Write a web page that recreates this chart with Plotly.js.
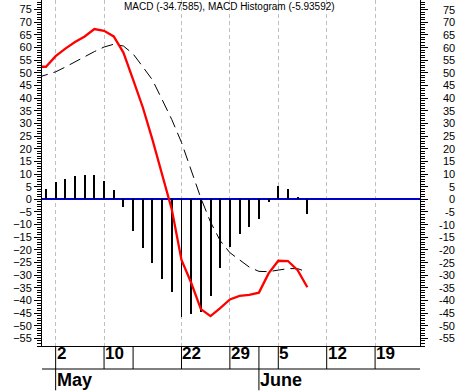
<!DOCTYPE html>
<html><head><meta charset="utf-8">
<script src="https://cdn.plot.ly/plotly-3.0.1.min.js"></script>
<style>html,body{margin:0;padding:0;background:#fff;overflow:hidden}#chart{width:460px;height:391px}</style>
</head><body><div id="chart"></div>
<script>
// trading-day index (0 = first bar shown)
const lineIdx = [-1,0,1,2,3,4,5,6,7,8,9,10,11,12,13,14,15,16,17,18,19,20,21,22,23,24,25,26,27];
const macd = [52.4,52.4,56.6,59.6,62.2,64.4,67.3,66.6,64.4,58.0,47.3,36.4,23.6,10.3,-4.0,-24.0,-33.0,-43.4,-46.2,-43.0,-39.6,-38.2,-37.8,-36.9,-29.3,-24.3,-24.4,-28.0,-34.76];
const signal = [48.0,49.1,50.4,52.3,54.4,56.5,58.4,60.2,61.3,60.6,57.5,52.4,47.2,39.4,31.5,22.5,11.5,0.5,-9.0,-16.4,-21.1,-24.0,-26.8,-28.5,-28.6,-28.0,-27.4,-27.4,-28.8];
const histIdx = [0,1,2,3,4,5,6,7,8,9,10,11,12,13,14,15,16,17,18,19,20,21,22,23,24,25,26,27];
const histogram = [4.0,7.0,8.2,9.3,9.6,9.7,7.2,3.5,-2.9,-12.4,-19.1,-25.0,-31.6,-36.6,-46.6,-45.2,-44.4,-38.1,-27.3,-18.9,-13.8,-10.8,-7.9,-0.9,5.3,3.9,0.9,-5.94];
const lastMacd = '-34.7585';
const lastHist = '-5.93592';
const yTicks = [-55,-50,-45,-40,-35,-30,-25,-20,-15,-10,-5,0,5,10,15,20,25,30,35,40,45,50,55,60,65,70,75];
const dateTickIdx = [1,6,14,19,24,29,34];
const dateTickLabels = ['2','10','22','29','5','12','19'];
const weekSepIdx = [1,6,9,14,19,22,24,29,34];
const monthIdx = [1,22];
const monthLabels = ['May','June'];

const YR = [-58, 78.8];
const rowY = -0.0665, botY = -0.128;

const traces = [
  {type:'bar', x:histIdx, y:histogram, width:0.2, marker:{color:'#000', line:{width:0}}, hoverinfo:'skip'},
  {type:'scatter', mode:'lines', x:lineIdx, y:signal, line:{color:'#000', width:1, dash:'12px,6px'}, hoverinfo:'skip'},
  {type:'scatter', mode:'lines', x:lineIdx, y:macd, yaxis:'y2', line:{color:'#ff0000', width:2.3}, hoverinfo:'skip'}
];

const tickFont = {family:'Arial, Liberation Sans, sans-serif', size:11, color:'#000'};
const dateFont = {family:'Arial, Liberation Sans, sans-serif', size:17, color:'#000', weight:'bold'};

const annotations = [];
annotations.push({xref:'paper', yref:'paper', x:0.497, y:0.98, xanchor:'center', yanchor:'middle', showarrow:false,
  text:'MACD (' + lastMacd + '), MACD Histogram (' + lastHist + ')', font:{family:'Arial, Liberation Sans, sans-serif', size:10, color:'#000'}});
yTicks.forEach(v => annotations.push({xref:'paper', yref:'y', x:1.0992, y:v, xanchor:'right', yanchor:'middle', showarrow:false, text:String(v), font:tickFont}));
dateTickIdx.forEach((d,i) => annotations.push({xref:'x', yref:'paper', x:d, y:-0.0231, xanchor:'left', yanchor:'middle', showarrow:false, text:dateTickLabels[i], font:dateFont, xshift:-1}));
monthIdx.forEach((d,i) => annotations.push({xref:'x', yref:'paper', x:d, y:-0.0997, xanchor:'left', yanchor:'middle', showarrow:false, text:monthLabels[i], font:Object.assign({}, dateFont, {size:18}), xshift:-1}));

const shapes = [];
shapes.push({type:'line', xref:'paper', yref:'paper', x0:0, x1:1, y0:rowY, y1:rowY, line:{color:'#000', width:1}});
weekSepIdx.forEach(d => {
  const full = monthIdx.indexOf(d) >= 0;
  shapes.push({type:'line', xref:'x', yref:'paper', x0:d, x1:d, y0:0, y1: full ? botY : rowY, line:{color:'#000', width:1}});
});

const axisY = {
  range:YR, tickmode:'array', tickvals:yTicks, ticks:'outside', ticklen:7, tickwidth:1, tickcolor:'#000',
  minor:{dtick:1, tick0:0, ticks:'outside', ticklen:4, tickcolor:'#000', tickwidth:1, showgrid:false},
  showgrid:false, showline:true, linecolor:'#000', linewidth:1, fixedrange:true
};

const layout = {
  width:460, height:391,
  margin:{l:42, r:40, t:0, b:45, pad:0},
  paper_bgcolor:'#fff', plot_bgcolor:'#fff',
  showlegend:false, bargap:0,
  xaxis:{range:[-0.41, 38.64], tickmode:'array', tickvals:dateTickIdx, showticklabels:false, ticks:'',
    showgrid:true, gridcolor:'#c0c0c0', gridwidth:1, griddash:'4px,3px', showline:true, linecolor:'#000', linewidth:1,
    zeroline:false, fixedrange:true},
  yaxis:Object.assign({}, axisY, {zeroline:true, zerolinecolor:'#0000cc', zerolinewidth:2, tickfont:tickFont}),
  yaxis2:Object.assign({}, axisY, {overlaying:'y', side:'right', showticklabels:false, zeroline:false}),
  annotations:annotations,
  shapes:shapes
};

Plotly.newPlot('chart', traces, layout, {staticPlot:true, displayModeBar:false});
</script>
</body></html>
